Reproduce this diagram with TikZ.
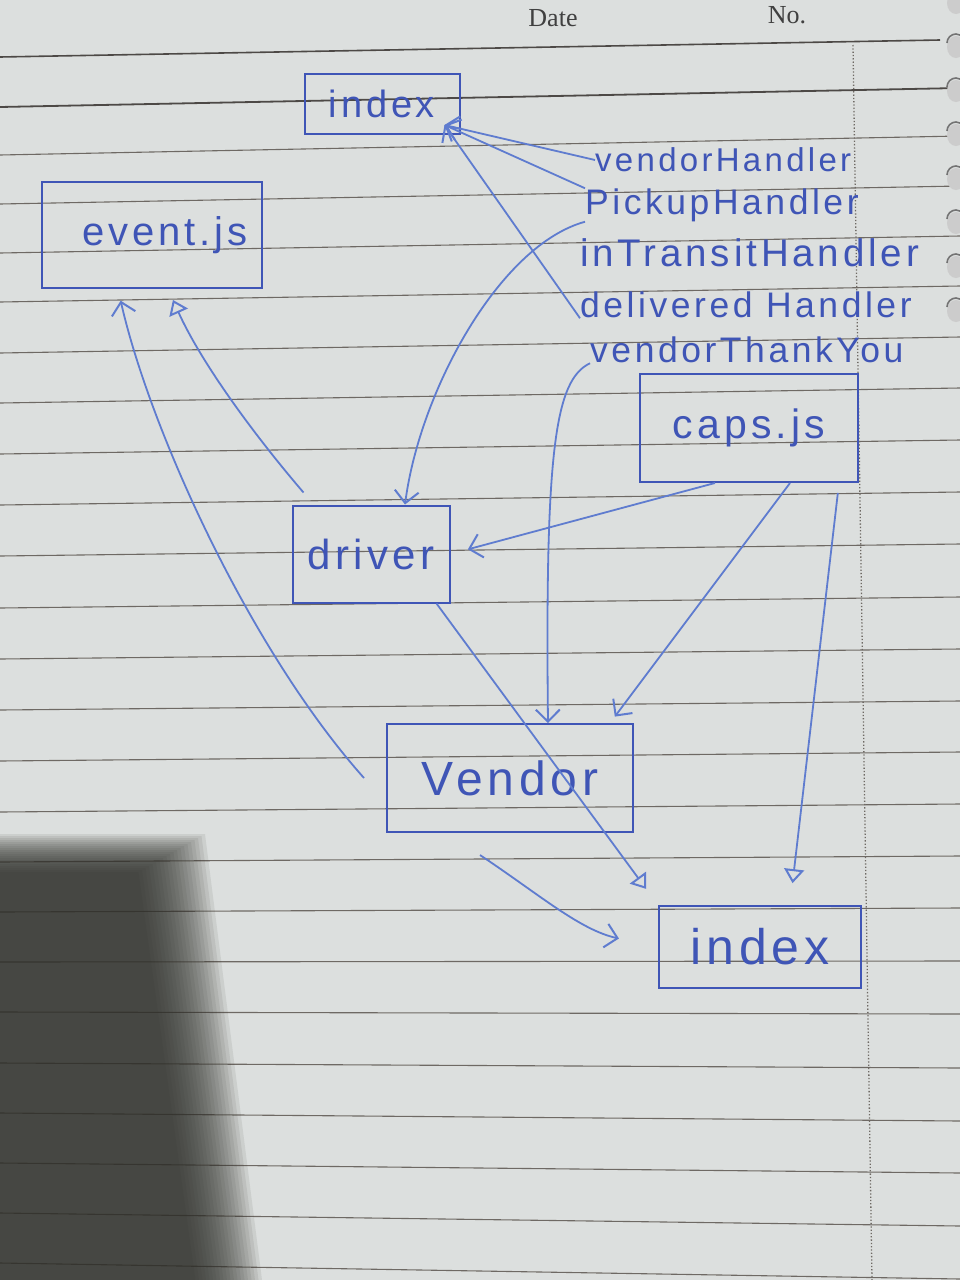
\documentclass[tikz,border=0pt]{standalone}
\usepackage{fontspec}
\usepackage{xcolor}
\usepackage{tikz}
\usetikzlibrary{arrows.meta}
\setmainfont{Liberation Serif}
\newfontfamily\handfont[LetterSpace=10]{Liberation Sans}
\definecolor{paper}{HTML}{DCDFDE}
\definecolor{ruling}{HTML}{6E6964}
\definecolor{shadowgray}{HTML}{31312C}
\definecolor{ink}{HTML}{3F55B6}
\definecolor{pen}{HTML}{5F7CCF}

\begin{document}
\begin{tikzpicture}[x=1pt,y=-1pt,
box/.style={draw=ink,line width=2pt,text=ink,inner sep=0pt},
lbl/.style={text=ink,inner sep=0pt,anchor=west,font=\handfont\fontsize{#1}{40}\selectfont},
arrow/.style={-{Straight Barb[length=12pt,width=24pt,line width=2pt]},line width=1.8pt,draw=pen},
arrowo/.style={-{Triangle[open,length=14pt,width=20pt,line width=2pt]},line width=1.8pt,draw=pen}]
\useasboundingbox (0,0) rectangle (960,1280);
% notebook page
\fill[paper] (0,0) rectangle (960,1280);
\foreach \yl/\yr in {155/136,204/186,253/236,302/286,353/337,403/388,454/440,505/492,556/544,608/597,659/649,710/701,761/752,812/804,862/856,912/908,962/961,1012/1014,1063/1068,1113/1121,1163/1173,1213/1226,1263/1279}
  \draw[ruling,line width=1.1pt] (0,\yl) -- (960,\yr);
\draw[ruling!70!black,line width=1.6pt] (0,57) -- (940,40);
\draw[ruling!70!black,line width=1.8pt] (0,107) -- (960,88);
\draw[ruling,line width=1.3pt,dotted] (853,45) -- (872,1280);
\foreach \i in {0,...,19}
  \fill[shadowgray,opacity=0.09] (0,834+2*\i) -- (205-3.5*\i,834+2*\i) -- (262-3.5*\i,1280) -- (0,1280) -- cycle;
\foreach \y in {3,47,91,135,179,223,267,311}{
  \fill[black!20] (956,\y) ellipse [x radius=9, y radius=11];
  \draw[black!55,line width=1.6pt] (947,\y-4) arc[start angle=180,end angle=330,x radius=9,y radius=9];}
\node[font=\fontsize{26}{30}\selectfont,text=black!75] (date) at (553,18) {Date};
\node[font=\fontsize{26}{30}\selectfont,text=black!75] (no) at (787,15) {No.};

% boxes
\node[box,minimum width=155pt,minimum height=60pt,font=\handfont\fontsize{38}{44}\selectfont] (idxtop) at (382,104) {index};
\node[box,minimum width=220pt,minimum height=106pt,font=\handfont\fontsize{40}{48}\selectfont] (event) at (152,235) {\hspace*{26pt}event.js};
\node[box,minimum width=218pt,minimum height=108pt,font=\handfont\fontsize{41}{48}\selectfont] (caps) at (749,428) {caps.js};
\node[box,minimum width=157pt,minimum height=97pt,font=\handfont\fontsize{42}{48}\selectfont] (driver) at (371,554) {driver};
\node[box,minimum width=246pt,minimum height=108pt,font=\handfont\fontsize{48}{56}\selectfont] (vendor) at (510,778) {Vendor};
\node[box,minimum width=202pt,minimum height=82pt,font=\handfont\fontsize{50}{58}\selectfont] (idxbot) at (760,947) {index};

% handlers
\node[lbl=33] (vh) at (595,160) {vendorHandler};
\node[lbl=35.5] (ph) at (585,205) {PickupHandler};
\node[lbl=38.5] (th) at (580,253) {inTransitHandler};
\node[lbl=35.5] (dh) at (580,305) {delivered Handler};
\node[lbl=35.5] (vt) at (590,350) {vendorThankYou};

\draw[arrow] (vh.west) -- ([xshift=-16pt,yshift=10pt]idxtop.south east);
\draw[arrow] (ph.north west) -- ([xshift=-16pt,yshift=10pt]idxtop.south east);
\draw[arrow] (dh.south west) -- ([xshift=-16pt,yshift=10pt]idxtop.south east);
\draw[arrow] (ph.south west) .. controls (500,245) and (420,390) .. ([xshift=34pt]driver.north);
\draw[arrow] (vt.south west) .. controls (555,380) and (545,450) .. ([xshift=38pt]vendor.north);
\draw[arrow,shorten >=18pt] ([xshift=-34pt]caps.south) -- (driver.east);
\draw[arrow,shorten >=8pt] ([xshift=41pt]caps.south) -- ([xshift=100pt]vendor.north);
\draw[arrowo,shorten <=10pt,shorten >=22pt] ([xshift=-20pt]caps.south east) -- ([xshift=30pt]idxbot.north);
\draw[arrowo,shorten >=12pt] ([xshift=12pt,yshift=12pt]driver.north west) .. controls (250,430) and (200,360) .. ([xshift=16pt]event.south);
\draw[arrow,shorten >=12pt] ([xshift=-22pt]vendor.west) .. controls (250,650) and (150,430) .. ([xshift=-34pt]event.south);
\draw[arrowo,shorten >=20pt] ([xshift=-14pt]driver.south east) -- (idxbot.north west);
\draw[arrow,shorten >=40pt] ([xshift=-30pt,yshift=-22pt]vendor.south) .. controls (540,895) and (580,930) .. (idxbot.west);
\end{tikzpicture}
\end{document}
